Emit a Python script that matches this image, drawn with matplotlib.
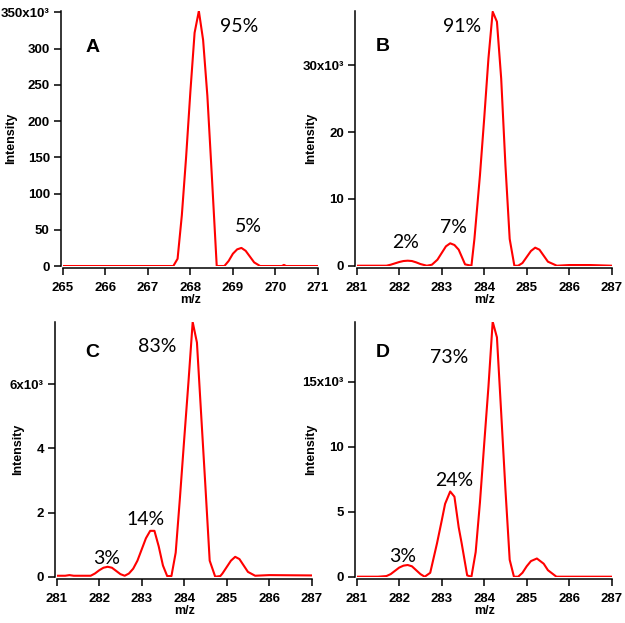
import numpy as np
import matplotlib
matplotlib.use("Agg")
import matplotlib.pyplot as plt

# ---- data (intensity in units of 10^3) ----
mz_a = [265.0, 266.0, 267.0, 267.6, 267.7, 267.8, 267.9, 268.0, 268.1, 268.2, 268.3,
        268.4, 268.5, 268.62, 268.8, 268.9, 269.0, 269.1, 269.2, 269.3, 269.4, 269.5,
        269.64, 270.0, 270.15, 270.2, 270.25, 270.5, 271.0]
int_a = [0.0, 0.0, 0.0, 0.0, 10.0, 70.0, 150.0, 240.0, 322.0, 352.0, 312.0,
         235.0, 130.0, 0.0, 0.0, 7.0, 17.0, 23.0, 25.0, 21.0, 13.0, 5.0,
         0.0, 0.0, 0.0, 1.5, 0.0, 0.0, 0.0]

mz_b = [281.0, 281.5, 281.7, 281.8, 281.9, 282.0, 282.1, 282.2, 282.3, 282.4, 282.5,
        282.65, 282.77, 282.9, 283.0, 283.1, 283.2, 283.3, 283.4, 283.55, 283.7, 283.77,
        283.9, 284.0, 284.1, 284.2, 284.3, 284.4, 284.5, 284.6, 284.71, 284.8, 284.9,
        285.0, 285.1, 285.2, 285.3, 285.4, 285.5, 285.71, 286.0, 286.5, 287.0]
int_b = [0.0, 0.0, 0.0, 0.15, 0.35, 0.55, 0.7, 0.75, 0.7, 0.5, 0.25,
         0.0, 0.15, 0.9, 1.9, 2.9, 3.35, 3.1, 2.4, 0.2, 0.0, 4.0,
         13.5, 22.0, 31.0, 38.0, 36.5, 28.0, 15.0, 4.0, 0.0, 0.0, 0.4,
         1.3, 2.2, 2.7, 2.4, 1.5, 0.6, 0.0, 0.1, 0.1, 0.0]

mz_c = [281.0, 281.2, 281.3, 281.4, 281.8, 281.9, 282.0, 282.1, 282.2, 282.3, 282.4,
        282.5, 282.6, 282.7, 282.8, 282.9, 283.0, 283.1, 283.2, 283.3, 283.4, 283.5,
        283.6, 283.7, 283.8, 283.9, 284.0, 284.1, 284.2, 284.3, 284.4, 284.5, 284.6,
        284.73, 284.85, 284.9, 285.0, 285.1, 285.2, 285.3, 285.4, 285.5, 285.67, 286.0, 287.0]
int_c = [0.03, 0.03, 0.05, 0.03, 0.03, 0.1, 0.2, 0.28, 0.31, 0.28, 0.18,
         0.08, 0.03, 0.1, 0.25, 0.5, 0.85, 1.2, 1.43, 1.43, 0.95, 0.35,
         0.02, 0.02, 0.75, 2.46, 4.28, 6.06, 7.94, 7.3, 5.04, 2.8, 0.5,
         0.0, 0.02, 0.1, 0.3, 0.5, 0.62, 0.55, 0.35, 0.15, 0.03, 0.05, 0.04]

mz_d = [281.0, 281.5, 281.7, 281.8, 281.9, 282.0, 282.1, 282.2, 282.3, 282.4, 282.5,
        282.6, 282.73, 282.89, 283.0, 283.08, 283.2, 283.3, 283.4, 283.47, 283.6, 283.7,
        283.8, 283.9, 284.0, 284.1, 284.2, 284.3, 284.4, 284.5, 284.6, 284.7, 284.8,
        284.9, 285.0, 285.1, 285.24, 285.4, 285.5, 285.7, 286.0, 287.0]
int_d = [0.0, 0.0, 0.05, 0.2, 0.45, 0.7, 0.85, 0.9, 0.8, 0.5, 0.2,
         0.0, 0.3, 2.57, 4.3, 5.6, 6.55, 6.15, 3.8, 2.57, 0.1, 0.0,
         1.9, 5.7, 10.2, 14.6, 19.6, 18.4, 12.6, 6.7, 1.3, 0.0, 0.0,
         0.3, 0.8, 1.2, 1.4, 1.0, 0.5, 0.0, 0.0, 0.0]

panel_letters = ["A", "B", "C", "D"]
xlims = [(265, 271), (281, 287), (281, 287), (281, 287)]
ylims = [352, 38.1, 7.95, 19.6]
yticks = [[0, 50, 100, 150, 200, 250, 300, 350], [0, 10, 20, 30], [0, 2, 4, 6], [0, 5, 10, 15]]
percent_labels = [
    ["95%", "5%"],
    ["91%", "2%", "7%"],
    ["83%", "14%", "3%"],
    ["73%", "24%", "3%"],
]
# positions in axes fraction
percent_pos = [
    [(0.691, 0.938), (0.727, 0.154)],
    [(0.413, 0.938), (0.190, 0.090), (0.380, 0.149)],
    [(0.396, 0.902), (0.349, 0.225), (0.196, 0.072)],
    [(0.361, 0.859), (0.383, 0.376), (0.181, 0.078)],
]
letter_pos = [(0.118, 0.856), (0.101, 0.860), (0.141, 0.878), (0.101, 0.878)]
ylabel_x = [-0.18, -0.156, -0.128, -0.156]

# axes rectangles in figure fraction
rects = [
    [0.1003, 0.573, 0.4085, 0.4093],
    [0.5707, 0.5735, 0.408, 0.4088],
    [0.0907, 0.0743, 0.408, 0.4093],
    [0.5707, 0.0743, 0.408, 0.4093],
]

data = [(mz_a, int_a), (mz_b, int_b), (mz_c, int_c), (mz_d, int_d)]

fig = plt.figure(figsize=(6.25, 6.23), dpi=100)
tick_font = "Liberation Sans"

for i in range(4):
    ax = fig.add_axes(rects[i])
    mz, inten = data[i]
    ax.plot(mz, inten, color="red", linewidth=1.5)

    ax.set_xlim(*xlims[i])
    ax.set_ylim(0, ylims[i])
    ax.set_xticks(np.arange(xlims[i][0], xlims[i][1] + 1))
    ax.set_yticks(yticks[i])
    labels = [str(v) for v in yticks[i]]
    labels[-1] = labels[-1] + "x10\u00b3"
    ax.set_yticklabels(labels)

    for s in ["top", "right"]:
        ax.spines[s].set_visible(False)
    ax.spines["left"].set_position(("outward", 1.3))
    ax.spines["bottom"].set_position(("outward", 1.7))
    for s in ["left", "bottom"]:
        ax.spines[s].set_linewidth(1.1)

    ax.tick_params(direction="out", length=5, width=1.1, labelsize=9.5, pad=3)
    ax.tick_params(axis="x", pad=5)
    for lab in ax.get_xticklabels() + ax.get_yticklabels():
        lab.set_fontfamily(tick_font)
        lab.set_fontweight("bold")

    ax.set_xlabel("m/z", fontsize=9, fontweight="bold", fontfamily=tick_font)
    ax.xaxis.set_label_coords(0.5, -0.11)
    ax.set_ylabel("Intensity", fontsize=9, fontweight="bold", fontfamily=tick_font)
    ax.yaxis.set_label_coords(ylabel_x[i], 0.5)

    ax.text(*letter_pos[i], panel_letters[i], transform=ax.transAxes,
            fontsize=14, fontweight="bold", fontfamily=tick_font,
            ha="center", va="center")
    for txt, pos in zip(percent_labels[i], percent_pos[i]):
        ax.text(*pos, txt, transform=ax.transAxes, fontsize=14,
                fontfamily="Lato", ha="center", va="center")

fig.savefig("out.png", dpi=100)
